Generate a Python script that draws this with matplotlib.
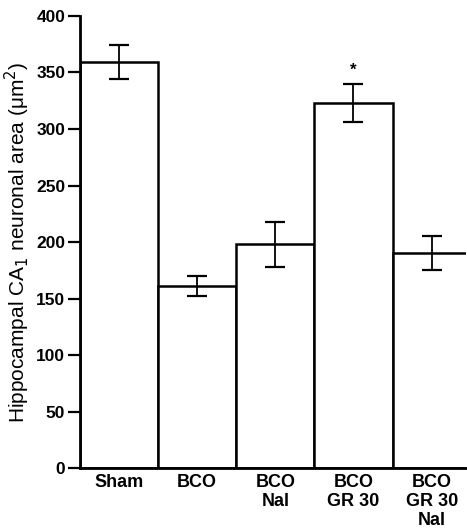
import matplotlib
matplotlib.use("Agg")
import matplotlib.pyplot as plt

plt.rcParams['font.family'] = ['Liberation Sans', 'DejaVu Sans']

groups = ["Sham", "BCO", "BCO\nNal", "BCO\nGR 30", "BCO\nGR 30\nNal"]
means = [359, 161, 198, 323, 190]
errors = [15, 9, 20, 17, 15]
significant = [False, False, False, True, False]

fig = plt.figure(figsize=(4.67, 5.32), dpi=100)
ax = fig.add_axes([0.171, 0.12, 0.827, 0.85])

x = list(range(len(groups)))
ax.bar(x, means, width=1.0, color="white", edgecolor="black", linewidth=1.8)
ax.errorbar(x, means, yerr=errors, fmt="none", ecolor="black",
            elinewidth=1.3, capsize=7, capthick=1.6)
for xi, m, e, s in zip(x, means, errors, significant):
    if s:
        ax.text(xi, m + e + 5, "*", ha="center", va="bottom",
                fontsize=12, fontweight="bold")

ax.set_xlim(-0.5, 4.44)
ax.set_ylim(0, 400)
ax.set_yticks(range(0, 401, 50))
ax.set_xticks(x)
ax.set_xticklabels(groups, fontsize=13, fontweight="bold", linespacing=1.15)
for lab in ax.get_yticklabels():
    lab.set_fontweight("bold")
    lab.set_fontsize(12.5)
ax.tick_params(axis="y", direction="out", length=9, width=1.6, pad=1.5)
ax.tick_params(axis="x", length=0, pad=4)

ax.spines["top"].set_visible(False)
ax.spines["right"].set_visible(False)
ax.spines["left"].set_linewidth(2)
ax.spines["bottom"].set_linewidth(2)

ax.set_ylabel("Hippocampal CA$_1$ neuronal area (\u03bcm$^2$)", fontsize=15, labelpad=3)

fig.savefig("out.png", dpi=100)
